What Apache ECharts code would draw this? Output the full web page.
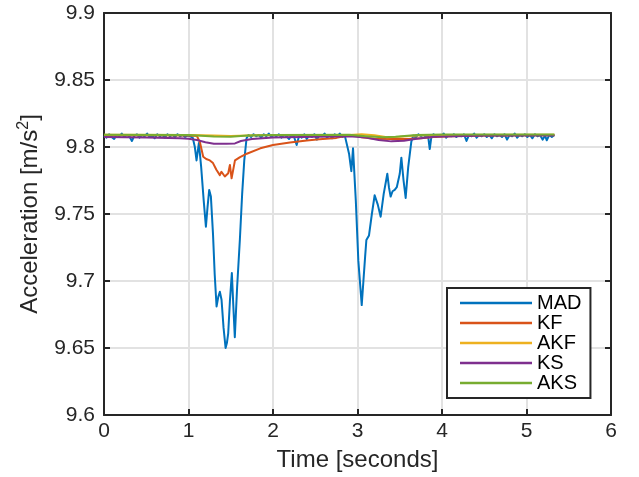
<!DOCTYPE html>
<html>
<head>
<meta charset="utf-8">
<script src="https://cdn.jsdelivr.net/npm/echarts@6/dist/echarts.min.js"></script>
<style>
  html, body { margin: 0; padding: 0; background: #ffffff; }
  #chart { width: 639px; height: 477px; }
</style>
</head>
<body>
<div id="chart"></div>
<script>
// Vertical acceleration estimates, [time (s), acceleration (m/s^2)]
const mad = [
  [0.00,9.8085],[0.03,9.8070],[0.06,9.8095],[0.09,9.8075],[0.12,9.8060],[0.15,9.8090],[0.18,9.8080],[0.21,9.8100],
  [0.24,9.8075],[0.27,9.8090],[0.30,9.8080],[0.33,9.8045],[0.36,9.8085],[0.39,9.8095],[0.42,9.8070],[0.45,9.8090],
  [0.48,9.8080],[0.51,9.8100],[0.54,9.8075],[0.57,9.8085],[0.60,9.8065],[0.63,9.8095],[0.66,9.8080],[0.69,9.8090],
  [0.72,9.8070],[0.75,9.8095],[0.78,9.8080],[0.81,9.8090],[0.84,9.8075],[0.87,9.8095],[0.90,9.8080],[0.93,9.8090],
  [0.96,9.8075],[0.99,9.8085],[1.02,9.8080],[1.05,9.8070],
  [1.075,9.800],[1.095,9.790],[1.11,9.797],[1.123,9.803],[1.15,9.785],[1.18,9.760],[1.206,9.7405],[1.225,9.755],
  [1.245,9.768],[1.265,9.763],[1.29,9.735],[1.31,9.705],[1.332,9.681],[1.352,9.688],[1.371,9.692],[1.391,9.686],
  [1.415,9.665],[1.439,9.650],[1.455,9.654],[1.47,9.661],[1.49,9.685],[1.513,9.706],[1.53,9.682],[1.548,9.658],
  [1.575,9.695],[1.608,9.731],[1.635,9.765],[1.66,9.790],[1.687,9.8065],
  [1.71,9.8090],[1.74,9.8075],[1.77,9.8095],[1.80,9.8080],[1.83,9.8090],[1.86,9.8070],[1.89,9.8095],[1.92,9.8080],
  [1.95,9.8100],[1.98,9.8075],[2.01,9.8090],[2.04,9.8080],[2.07,9.8095],[2.10,9.8070],[2.13,9.8090],[2.16,9.8080],
  [2.19,9.8060],[2.22,9.8090],[2.25,9.8075],[2.28,9.8015],[2.31,9.8085],[2.34,9.8070],[2.37,9.8095],[2.40,9.8060],
  [2.43,9.8090],[2.46,9.8075],[2.49,9.8095],[2.52,9.8055],[2.55,9.8090],[2.58,9.8080],[2.61,9.8100],[2.64,9.8070],
  [2.67,9.8090],[2.70,9.8065],[2.73,9.8095],[2.76,9.8080],[2.79,9.8100],[2.82,9.8075],[2.85,9.8085],
  [2.868,9.8075],[2.90,9.795],[2.927,9.782],[2.947,9.799],[2.98,9.760],[3.01,9.715],[3.05,9.682],[3.07,9.700],
  [3.09,9.718],[3.105,9.7306],[3.136,9.734],[3.17,9.750],[3.203,9.764],[3.24,9.757],[3.274,9.748],[3.31,9.765],
  [3.353,9.780],[3.372,9.770],[3.392,9.763],[3.415,9.767],[3.44,9.768],[3.465,9.770],[3.487,9.769],[3.50,9.780],
  [3.519,9.792],[3.545,9.775],[3.57,9.762],[3.60,9.785],[3.637,9.804],
  [3.66,9.8085],[3.69,9.8070],[3.72,9.8095],[3.75,9.8080],[3.78,9.8090],[3.81,9.8075],[3.835,9.8085],[3.855,9.7985],
  [3.875,9.8080],[3.90,9.8095],[3.93,9.8075],[3.96,9.8090],[3.99,9.8080],[4.02,9.8100],[4.05,9.8070],[4.08,9.8090],
  [4.11,9.8080],[4.14,9.8095],[4.17,9.8075],[4.20,9.8090],[4.23,9.8080],[4.26,9.8095],[4.29,9.8045],[4.32,9.8090],
  [4.35,9.8080],[4.38,9.8100],[4.41,9.8070],[4.44,9.8090],[4.47,9.8080],[4.50,9.8095],[4.53,9.8075],[4.56,9.8090],
  [4.59,9.8065],[4.62,9.8095],[4.65,9.8080],[4.68,9.8090],[4.71,9.8075],[4.74,9.8095],[4.77,9.8055],[4.80,9.8090],
  [4.83,9.8080],[4.86,9.8100],[4.89,9.8070],[4.92,9.8090],[4.95,9.8080],[4.98,9.8095],[5.01,9.8075],[5.04,9.8090],
  [5.07,9.8065],[5.10,9.8095],[5.13,9.8080],[5.16,9.8090],[5.19,9.8055],[5.22,9.8085],[5.24,9.8050],[5.27,9.8090],
  [5.30,9.8075],[5.33,9.8090]
];

const kf = [
  [0.00,9.8085],[0.50,9.8088],[1.00,9.8085],[1.10,9.8082],[1.135,9.8035],[1.174,9.7927],[1.21,9.7910],[1.253,9.7900],
  [1.29,9.7880],[1.33,9.7830],[1.371,9.7790],[1.39,9.7815],[1.43,9.7780],[1.47,9.7804],[1.49,9.7866],[1.51,9.7766],
  [1.55,9.7900],[1.61,9.7925],[1.69,9.7950],[1.85,9.7990],[2.00,9.8015],[2.20,9.8033],[2.40,9.8048],[2.55,9.8057],
  [2.75,9.8068],[2.90,9.8088],[3.00,9.8085],[3.05,9.8072],[3.20,9.8062],[3.40,9.8060],[3.60,9.8060],[3.75,9.8066],
  [3.90,9.8075],[4.10,9.8080],[4.50,9.8085],[5.33,9.8088]
];

const akf = [
  [0.00,9.8092],[1.00,9.8090],[1.30,9.8085],[1.50,9.8082],[1.80,9.8088],[2.90,9.8090],[3.05,9.8095],[3.20,9.8088],
  [3.35,9.8072],[3.50,9.8076],[3.70,9.8085],[4.00,9.8090],[5.33,9.8092]
];

const ks = [
  [0.00,9.8075],[0.50,9.8071],[0.90,9.8066],[1.00,9.8062],[1.10,9.8052],[1.20,9.8036],[1.30,9.8025],[1.45,9.8024],
  [1.55,9.8027],[1.62,9.8045],[1.75,9.8060],[2.00,9.8070],[2.50,9.8077],[2.90,9.8080],[3.10,9.8070],[3.25,9.8052],
  [3.40,9.8042],[3.55,9.8046],[3.70,9.8062],[3.90,9.8076],[4.50,9.8085],[5.33,9.8088]
];

const aks = [
  [0.00,9.8092],[1.00,9.8090],[1.30,9.8078],[1.50,9.8076],[1.70,9.8085],[2.00,9.8090],[2.90,9.8092],[3.10,9.8081],
  [3.30,9.8072],[3.45,9.8076],[3.70,9.8089],[4.00,9.8093],[5.33,9.8094]
];

const seriesNames = ['MAD', 'KF', 'AKF', 'KS', 'AKS'];
const seriesData = [mad, kf, akf, ks, aks];
const seriesColors = ['#0072BD', '#D95319', '#EDB120', '#7E2F8E', '#77AC30'];

const xTicks = { min: 0, max: 6, interval: 1 };
const yTicks = { min: 9.6, max: 9.9, interval: 0.05 };

const ink = '#262626';
const font = 'Liberation Sans, Arial, Helvetica, sans-serif';

const chart = echarts.init(document.getElementById('chart'), null, { renderer: 'canvas' });

const frameAxis = {
  axisLine: { show: true, onZero: false, lineStyle: { color: ink, width: 2 } },
  axisTick: { show: true, inside: true, length: 6, lineStyle: { color: ink, width: 2 } },
  axisLabel: { show: false },
  splitLine: { show: false }
};

chart.setOption({
  animation: false,
  backgroundColor: '#ffffff',
  textStyle: { fontFamily: font },
  grid: { left: 104, right: 28, top: 13, bottom: 62, containLabel: false },
  legend: {
    data: seriesNames,
    orient: 'vertical',
    left: 447,
    top: 288,
    icon: 'rect',
    itemWidth: 72,
    itemHeight: 2.5,
    itemGap: 0,
    padding: [5, 9, 5, 13],
    backgroundColor: '#ffffff',
    borderColor: ink,
    borderWidth: 2,
    borderRadius: 0,
    textStyle: { fontFamily: font, fontSize: 20, color: '#000000', lineHeight: 19.5 }
  },
  xAxis: [
    {
      type: 'value',
      position: 'bottom',
      min: xTicks.min, max: xTicks.max, interval: xTicks.interval,
      name: 'Time [seconds]',
      nameLocation: 'middle',
      nameGap: 33,
      nameTextStyle: { fontFamily: font, fontSize: 24, color: ink },
      axisLine: { show: true, onZero: false, lineStyle: { color: ink, width: 2 } },
      axisTick: { show: true, inside: true, length: 6, lineStyle: { color: ink, width: 2 } },
      axisLabel: { fontFamily: font, fontSize: 21, color: ink, margin: 6 },
      splitLine: { show: true, lineStyle: { color: '#e2e2e2', width: 2 } }
    },
    Object.assign({ type: 'value', position: 'top', min: xTicks.min, max: xTicks.max, interval: xTicks.interval }, frameAxis)
  ],
  yAxis: [
    {
      type: 'value',
      position: 'left',
      min: yTicks.min, max: yTicks.max, interval: yTicks.interval,
      name: 'Acceleration [m/s{sup|2}]',
      nameLocation: 'middle',
      nameGap: 60,
      nameTextStyle: {
        fontFamily: font, fontSize: 24, color: ink,
        rich: {
          sup: { fontFamily: font, fontSize: 16, color: ink, verticalAlign: 'top', padding: [0, 0, 12, 0] }
        }
      },
      axisLine: { show: true, onZero: false, lineStyle: { color: ink, width: 2 } },
      axisTick: { show: true, inside: true, length: 6, lineStyle: { color: ink, width: 2 } },
      axisLabel: {
        fontFamily: font, fontSize: 21, color: ink, margin: 9,
        formatter: v => String(+v.toFixed(2))
      },
      splitLine: { show: true, lineStyle: { color: '#e2e2e2', width: 2 } }
    },
    Object.assign({ type: 'value', position: 'right', min: yTicks.min, max: yTicks.max, interval: yTicks.interval }, frameAxis)
  ],
  series: seriesNames.map((name, i) => ({
    name: name,
    type: 'line',
    xAxisIndex: 0,
    yAxisIndex: 0,
    data: seriesData[i],
    symbol: 'none',
    smooth: false,
    color: seriesColors[i],
    lineStyle: { color: seriesColors[i], width: 2, join: 'round' },
    z: 2 + i
  }))
});
</script>
</body>
</html>
